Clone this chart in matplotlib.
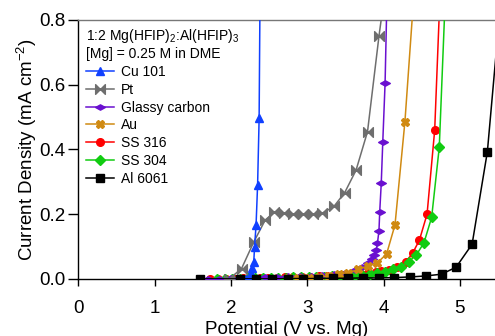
import matplotlib
matplotlib.use("Agg")
import matplotlib.pyplot as plt
from matplotlib.path import Path
import numpy as np

plt.rcParams['font.family'] = ['Liberation Sans', 'DejaVu Sans']
plt.rcParams['mathtext.fontset'] = 'custom'
plt.rcParams['mathtext.rm'] = 'Liberation Sans'
plt.rcParams['mathtext.it'] = 'Liberation Sans:italic'

# ---- data ----
cu_x = [2.20, 2.25, 2.27, 2.28, 2.30, 2.31, 2.33, 2.35, 2.37, 2.38]
cu_y = [0.0, 0.005, 0.018, 0.033, 0.053, 0.098, 0.167, 0.29, 0.496, 0.82]

pt_x = [1.98, 2.14, 2.30, 2.45, 2.57, 2.69, 2.82, 2.95, 3.08, 3.20, 3.35, 3.49, 3.64, 3.79, 3.94, 3.98]
pt_y = [0.0, 0.032, 0.114, 0.182, 0.206, 0.203, 0.200, 0.200, 0.200, 0.203, 0.224, 0.266, 0.336, 0.455, 0.75, 0.82]

gc_x = [1.70, 1.85, 2.00, 2.15, 2.30, 2.45, 2.60, 2.75, 2.90, 3.05, 3.20, 3.35, 3.50, 3.62,
        3.72, 3.80, 3.85, 3.88, 3.905, 3.92, 3.94, 3.95, 3.97, 3.99, 4.02, 4.04]
gc_y = [0.0, 0.001, 0.002, 0.003, 0.004, 0.005, 0.006, 0.008, 0.009, 0.010, 0.012, 0.014, 0.018, 0.026,
        0.038, 0.048, 0.061, 0.074, 0.090, 0.110, 0.149, 0.208, 0.296, 0.424, 0.604, 0.82]

au_x = [2.75, 2.88, 3.02, 3.15, 3.28, 3.41, 3.54, 3.67, 3.79, 3.92, 4.04, 4.15, 4.28, 4.38]
au_y = [0.002, 0.003, 0.004, 0.006, 0.009, 0.014, 0.019, 0.029, 0.040, 0.050, 0.077, 0.167, 0.486, 0.82]

ss316_x = [1.72, 1.83, 1.94, 2.05, 2.16, 2.27, 2.38, 2.49, 2.60, 2.71, 2.82, 2.93, 3.04, 3.15, 3.26,
           3.37, 3.48, 3.59, 3.70, 3.80, 3.90, 3.97, 4.07, 4.18, 4.29, 4.38, 4.47, 4.57, 4.67, 4.73]
ss316_y = [0.0, 0.0, 0.001, 0.001, 0.002, 0.002, 0.003, 0.003, 0.004, 0.005, 0.005, 0.006, 0.007, 0.008, 0.009,
           0.010, 0.012, 0.014, 0.016, 0.019, 0.022, 0.024, 0.028, 0.038, 0.053, 0.079, 0.12, 0.20, 0.46, 0.82]

ss304_x = [1.82, 1.92, 2.02, 2.12, 2.22, 2.32, 2.42, 2.52, 2.62, 2.72, 2.82, 2.92, 3.02, 3.12, 3.22, 3.32,
           3.42, 3.52, 3.62, 3.72, 3.82, 3.92, 4.02, 4.12, 4.23, 4.33, 4.43, 4.53, 4.63, 4.73, 4.80]
ss304_y = [0.0, 0.0, 0.001, 0.001, 0.002, 0.002, 0.003, 0.003, 0.004, 0.004, 0.005, 0.005, 0.006, 0.006, 0.007, 0.008,
           0.009, 0.010, 0.011, 0.013, 0.016, 0.019, 0.022, 0.030, 0.038, 0.053, 0.074, 0.112, 0.19, 0.407, 0.82]

al_x = [1.59, 2.12, 2.33, 2.54, 2.75, 2.94, 3.14, 3.34, 3.53, 3.73, 3.94, 4.14, 4.35, 4.55, 4.76, 4.95, 5.16, 5.36, 5.57]
al_y = [0.0, 0.0, 0.0, 0.0, 0.001, 0.001, 0.001, 0.002, 0.002, 0.003, 0.003, 0.004, 0.006, 0.009, 0.0145, 0.036, 0.107, 0.393, 0.95]

legend_title = "1:2 Mg(HFIP)$_2$:Al(HFIP)$_3$\n[Mg] = 0.25 M in DME"
x_ticks = [0, 1, 2, 3, 4, 5]
y_ticks = [0.0, 0.2, 0.4, 0.6, 0.8]

# ---- custom markers ----
bowtie = Path([(-1, 1), (-1, -1), (0, 0), (-1, 1), (1, 1), (1, -1), (0, 0), (1, 1)],
              [Path.MOVETO, Path.LINETO, Path.LINETO, Path.CLOSEPOLY,
               Path.MOVETO, Path.LINETO, Path.LINETO, Path.CLOSEPOLY])
wide_diamond = Path([(-1, 0), (0, 0.55), (1, 0), (0, -0.55), (-1, 0)],
                    [Path.MOVETO, Path.LINETO, Path.LINETO, Path.LINETO, Path.CLOSEPOLY])

fig = plt.figure(figsize=(4.95, 3.36), dpi=100)
ax = fig.add_axes([0.158, 0.17, 0.842, 0.7705])

lw = 1.1
ax.plot(ss316_x, ss316_y, color='#FF0000', marker='o', ms=5.5, lw=lw, label='SS 316', zorder=2)
ax.plot(ss304_x, ss304_y, color='#11CC11', marker='D', ms=5.0, lw=lw, label='SS 304', zorder=3)
ax.plot(gc_x, gc_y, color='#6A10D0', marker=wide_diamond, ms=7, lw=lw, label='Glassy carbon', zorder=4)
ax.plot(au_x, au_y, color='#D08A12', marker='X', ms=5.5, lw=lw, label='Au', zorder=5)
ax.plot(pt_x, pt_y, color='#6E6E6E', marker=bowtie, ms=7, lw=lw, label='Pt', zorder=6)
ax.plot(cu_x, cu_y, color='#1040FF', marker='^', ms=5.5, lw=lw, label='Cu 101', zorder=7)
ax.plot(al_x, al_y, color='black', marker='s', ms=5.5, lw=lw, label='Al 6061', zorder=8)

ax.set_xlim(0, 5.46)
ax.set_ylim(0, 0.8)
ax.set_xticks(x_ticks)
ax.set_yticks(y_ticks)
ax.set_yticklabels([f"{v:.1f}" for v in y_ticks])
ax.tick_params(axis='both', labelsize=13.5, direction='out', width=1, colors='black')
ax.tick_params(axis='y', length=7, pad=2)
ax.tick_params(axis='x', length=5, pad=10)
for s in ['left', 'bottom']:
    ax.spines[s].set_linewidth(1)
    ax.spines[s].set_color('black')
ax.spines['top'].set_color('#777777')
ax.spines['top'].set_linewidth(1)
ax.spines['right'].set_visible(False)

ax.set_xlabel('Potential (V vs. Mg)', fontsize=13.5, labelpad=3)
ax.set_ylabel('Current Density (mA cm$^{-2}$)', fontsize=13.5, labelpad=0)

handles, labels = ax.get_legend_handles_labels()
order = ['Cu 101', 'Pt', 'Glassy carbon', 'Au', 'SS 316', 'SS 304', 'Al 6061']
hmap = dict(zip(labels, handles))
leg = ax.legend([hmap[k] for k in order], order, title=legend_title, loc='upper left',
                bbox_to_anchor=(-0.005, 1.01), frameon=False, fontsize=10, title_fontsize=10,
                handlelength=2.0, handletextpad=0.5, labelspacing=0.27, borderaxespad=0.3,
                alignment='left', numpoints=1)

fig.savefig('out.png', dpi=100)
